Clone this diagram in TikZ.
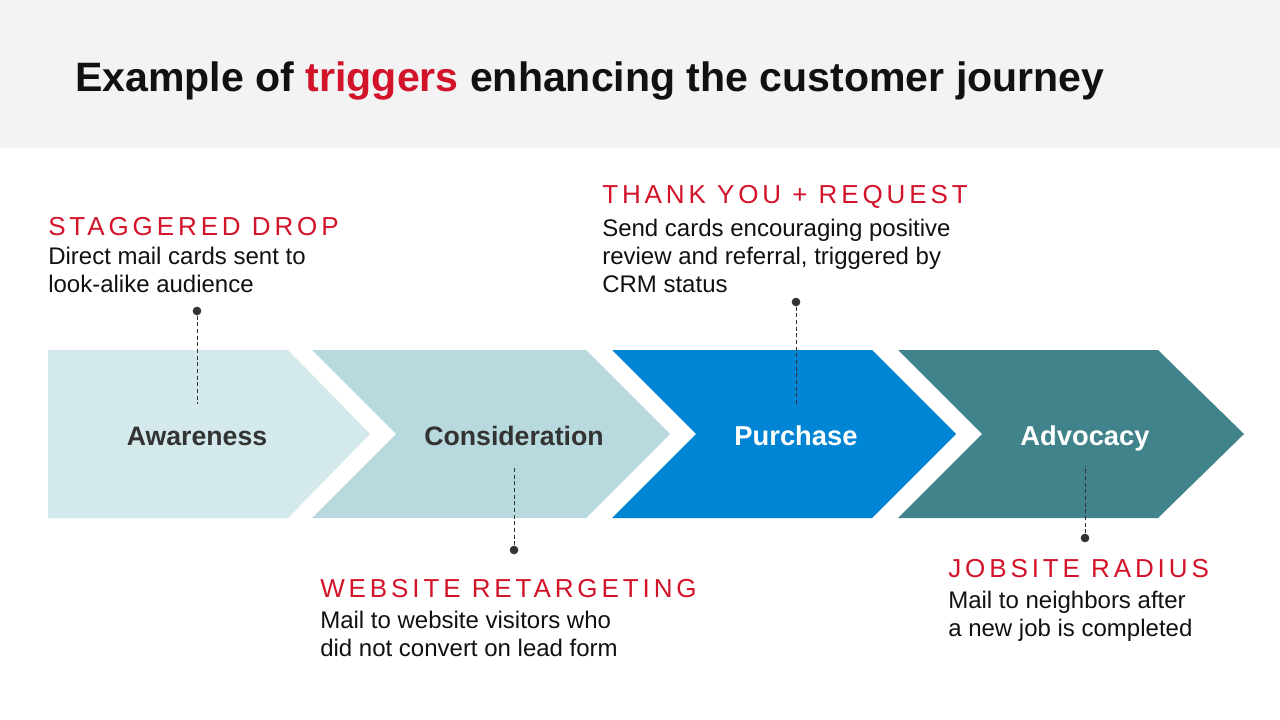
\documentclass[tikz,border=0pt]{standalone}
\usepackage{fontspec}
\setmainfont{Liberation Sans}
\newfontfamily\spaced[LetterSpace=15]{Liberation Sans}
\definecolor{hdr}{HTML}{F3F3F3}
\definecolor{trig}{HTML}{D2132A}
\definecolor{cA}{HTML}{D4E9EB}
\definecolor{cB}{HTML}{B8D9DD}
\definecolor{cC}{HTML}{0085D5}
\definecolor{cD}{HTML}{40838A}
\definecolor{txt}{HTML}{111111}
\definecolor{stage}{HTML}{333333}
\begin{document}
\begin{tikzpicture}[x=0.75pt,y=-0.75pt,
  head/.style={anchor=base west,inner sep=0,text=trig,font=\spaced\fontsize{19.5}{20}\selectfont},
  body/.style={anchor=north west,inner sep=0,text=txt,align=left,font=\fontsize{18}{21}\selectfont},
  stg/.style={anchor=base,font=\bfseries\fontsize{20}{24}\selectfont,text=stage},
  stgw/.style={anchor=base,font=\bfseries\fontsize{20.5}{24}\selectfont,text=white},
  lead/.style={densely dashed,line width=0.6pt,draw=stage},
  dot/.style={circle,fill=stage,inner sep=0,minimum size=6.5pt}]
\useasboundingbox (0,0) rectangle (1280,720);
\fill[white] (0,0) rectangle (1280,720);
\fill[hdr] (0,0) rectangle (1280,148);
\node[anchor=base west,inner sep=0,font=\bfseries\fontsize{30.8}{36}\selectfont,text=txt] (title) at (75,92) {Example of \textcolor{trig}{triggers} enhancing the customer journey};
\fill[cA] (48,350) -- (288,350) -- (370,434) -- (288,518) -- (48,518) -- cycle;
\fill[cB] (312,350) -- (586,350) -- (670,434) -- (586,518) -- (312,518) -- (396,434) -- cycle;
\fill[cC] (612,350) -- (872,350) -- (956,434) -- (872,518) -- (612,518) -- (696,434) -- cycle;
\fill[cD] (898,350) -- (1158,350) -- (1244,434) -- (1158,518) -- (898,518) -- (982,434) -- cycle;
\node[stg] (aw) at (197,445) {Awareness};
\node[stg] (co) at (514,445) {Consideration};
\node[stgw] (pu) at (796,445) {Purchase};
\node[stgw] (ad) at (1085,445) {Advocacy};
\node[dot] (d1) at (197,311) {};
\node[dot] (d2) at (514,550) {};
\node[dot] (d3) at (796,302) {};
\node[dot] (d4) at (1085,538) {};
\coordinate (e1) at (197,404);
\coordinate (e2) at (514,468);
\coordinate (e3) at (796,404);
\coordinate (e4) at (1085,466);
\draw[lead] (d1) -- (e1);
\draw[lead] (d2) -- (e2);
\draw[lead] (d3) -- (e3);
\draw[lead] (d4) -- (e4);
\node[head] (h1) at (48,235) {STAGGERED DROP};
\node[body] (b1) at (48,247) {Direct mail cards sent to\\look-alike audience};
\node[head] (h3) at (602,204) {THANK YOU + REQUEST};
\node[body] (b3) at (602,219) {Send cards encouraging positive\\review and referral, triggered by\\CRM status};
\node[head] (h2) at (320,597) {WEBSITE RETARGETING};
\node[body] (b2) at (320,611) {Mail to website visitors who\\did not convert on lead form};
\node[head] (h4) at (948,577) {JOBSITE RADIUS};
\node[body] (b4) at (948,591) {Mail to neighbors after\\a new job is completed};
\end{tikzpicture}
\end{document}
